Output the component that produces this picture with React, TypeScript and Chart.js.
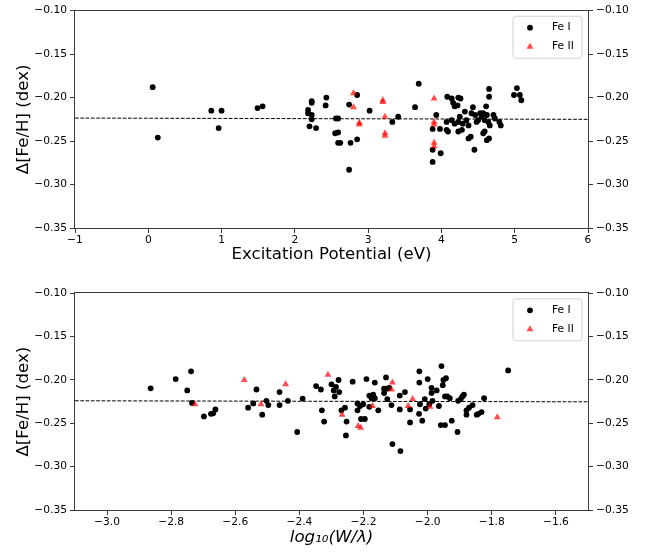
import React, { useEffect, useRef } from "react";
import { Chart, registerables } from "chart.js";

Chart.register(...registerables);

// ---------- data ----------
const seriesLabels = ["Fe I", "Fe II"];

// Top panel: excitation potential (eV) vs Δ[Fe/H]
const epFeI = [
  0.06, 0.13, 0.86, 1.0, 0.96, 1.49, 1.56, 2.18, 2.18, 2.23, 2.23, 2.23, 2.23, 2.2, 2.29, 2.43, 2.42, 2.56, 2.59,
  2.55, 2.59, 2.59, 2.62, 2.74, 2.74, 2.76, 2.85, 2.85, 3.02, 3.33, 3.41, 3.64, 3.69, 3.88, 3.88, 3.88, 3.93, 3.98,
  3.99, 4.08, 4.14, 4.23, 4.26, 4.16, 4.22, 4.18, 4.65, 4.65, 5.03, 4.99, 5.07, 5.09, 4.43, 4.61, 4.41, 4.46, 4.53,
  4.57, 4.55, 4.62, 4.71, 4.73, 4.79, 4.81, 4.07, 4.07, 4.09, 4.14, 4.18, 4.23, 4.25, 4.29, 4.23, 4.28, 4.32, 4.34,
  4.37, 4.48, 4.5, 4.59, 4.64, 4.66, 4.57, 4.59, 4.62, 4.65, 4.37, 4.4, 4.45,
];
const epFeIDelta = [
  -0.188, -0.246, -0.215, -0.215, -0.235, -0.212, -0.21, -0.214, -0.218, -0.204, -0.206, -0.22, -0.225, -0.233,
  -0.235, -0.2, -0.209, -0.224, -0.224, -0.241, -0.24, -0.252, -0.252, -0.208, -0.283, -0.252, -0.197, -0.248,
  -0.215, -0.228, -0.222, -0.211, -0.184, -0.236, -0.26, -0.274, -0.22, -0.236, -0.264, -0.199, -0.201, -0.2,
  -0.201, -0.206, -0.209, -0.21, -0.19, -0.199, -0.189, -0.197, -0.197, -0.203, -0.211, -0.21, -0.218, -0.22,
  -0.218, -0.218, -0.222, -0.22, -0.22, -0.224, -0.228, -0.232, -0.228, -0.237, -0.239, -0.226, -0.23, -0.228,
  -0.222, -0.23, -0.239, -0.237, -0.216, -0.226, -0.232, -0.228, -0.226, -0.226, -0.228, -0.232, -0.241, -0.239,
  -0.249, -0.247, -0.247, -0.245, -0.26,
];
const epFeII = [2.8, 2.8, 2.88, 2.88, 3.2, 3.2, 3.23, 3.23, 3.23, 3.9, 3.9, 3.9, 3.9, 3.9];
const epFeIIDelta = [
  -0.195, -0.211, -0.229, -0.231, -0.203, -0.205, -0.222, -0.241, -0.244, -0.201, -0.228, -0.231, -0.252, -0.256,
];
const epFitX = [-1, 6];
const epFitY = [-0.2235, -0.225];

// Bottom panel: log10(W/λ) vs Δ[Fe/H]
const rewFeI = [
  -2.864, -2.786, -2.75, -2.738, -2.735, -2.698, -2.676, -2.669, -2.662, -2.56, -2.544, -2.534, -2.516, -2.503,
  -2.497, -2.462, -2.462, -2.436, -2.407, -2.39, -2.348, -2.333, -2.33, -2.323, -2.3, -2.293, -2.29, -2.286,
  -2.278, -2.276, -2.269, -2.258, -2.253, -2.255, -2.234, -2.219, -2.219, -2.211, -2.208, -2.201, -2.196, -2.191,
  -2.182, -2.182, -2.175, -2.17, -2.165, -2.165, -2.154, -2.13, -2.136, -2.136, -2.128, -2.126, -2.12, -2.113,
  -2.11, -2.087, -2.085, -2.087, -2.071, -2.055, -2.055, -2.026, -2.026, -2.024, -2.027, -2.017, -2.009, -2.006,
  -2.0, -1.995, -1.988, -1.988, -1.985, -1.972, -1.965, -1.957, -1.959, -1.951, -1.953, -1.946, -1.943, -1.946,
  -1.939, -1.931, -1.925, -1.907, -1.905, -1.897, -1.892, -1.887, -1.879, -1.879, -1.871, -1.86, -1.847, -1.842,
  -1.832, -1.824, -1.749,
];
const rewFeIDelta = [
  -0.2096, -0.199, -0.212, -0.19, -0.2265, -0.242, -0.239, -0.2385, -0.234, -0.232, -0.227, -0.211, -0.24, -0.224,
  -0.229, -0.214, -0.229, -0.224, -0.26, -0.2215, -0.207, -0.211, -0.235, -0.248, -0.205, -0.212, -0.219, -0.208,
  -0.2, -0.214, -0.235, -0.232, -0.248, -0.264, -0.202, -0.227, -0.235, -0.23, -0.245, -0.228, -0.245, -0.199,
  -0.218, -0.231, -0.221, -0.217, -0.203, -0.221, -0.235, -0.197, -0.21, -0.215, -0.21, -0.222, -0.209, -0.229,
  -0.274, -0.218, -0.282, -0.234, -0.214, -0.234, -0.249, -0.19, -0.203, -0.228, -0.239, -0.247, -0.222, -0.233,
  -0.199, -0.228, -0.209, -0.215, -0.224, -0.212, -0.23, -0.184, -0.252, -0.2, -0.206, -0.252, -0.198, -0.219,
  -0.219, -0.221, -0.247, -0.26, -0.224, -0.222, -0.219, -0.217, -0.235, -0.24, -0.232, -0.229, -0.24, -0.239,
  -0.237, -0.221, -0.189,
];
const rewFeII = [
  -2.726, -2.572, -2.52, -2.443, -2.311, -2.267, -2.217, -2.209, -2.172, -2.11, -2.113, -2.061, -2.047, -1.993, -1.783,
];
const rewFeIIDelta = [
  -0.228, -0.2, -0.228, -0.205, -0.194, -0.24, -0.253, -0.255, -0.23, -0.203, -0.211, -0.23, -0.222, -0.231, -0.243,
];
const rewFitX = [-3.1, -1.5];
const rewFitY = [-0.224, -0.2252];

// ticks and titles
const yTicks = [-0.35, -0.3, -0.25, -0.2, -0.15, -0.1];
const epTicks = [-1, 0, 1, 2, 3, 4, 5, 6];
const rewTicks = [-3.0, -2.8, -2.6, -2.4, -2.2, -2.0, -1.8, -1.6];
const epTitle = "Excitation Potential (eV)";
const rewTitle = "log\u2081\u2080(W/\u03BB)";
const yTitle = "\u0394[Fe/H] (dex)";

// ---------- styling ----------
const FONT = "'DejaVu Sans', 'Noto Sans', sans-serif";
const TICK_SIZE = 10.7;
const TITLE_SIZE = 16.6;
const FE1_COLOR = "#000000";
const FE2_COLOR = "rgba(255,0,0,0.7)";
const AXIS_COLOR = "#3a3a3a";

function fmt(v: number, dec: number): string {
  const s = Math.abs(v).toFixed(dec);
  if (Number(s) === 0) return s;
  return (v < 0 ? "\u2212" : "") + s;
}

const framePlugin = {
  id: "frame",
  afterDatasetsDraw(chart: any) {
    const { ctx, chartArea } = chart;
    ctx.save();
    ctx.strokeStyle = AXIS_COLOR;
    ctx.lineWidth = 1;
    const l = Math.round(chartArea.left) - 0.5;
    const r = Math.round(chartArea.right) + 0.5;
    const t = Math.round(chartArea.top) - 0.5;
    const b = Math.round(chartArea.bottom) + 0.5;
    ctx.strokeRect(l, t, r - l, b - t);
    ctx.restore();
  },
};

const boxLegendPlugin = {
  id: "boxLegend",
  afterDraw(chart: any) {
    const { ctx, chartArea } = chart;
    const w = 69;
    const h = 42;
    const x0 = chartArea.right - 6 - w;
    const y0 = chartArea.top + 5.5;
    ctx.save();
    ctx.beginPath();
    if (ctx.roundRect) ctx.roundRect(x0, y0, w, h, 3);
    else ctx.rect(x0, y0, w, h);
    ctx.fillStyle = "rgba(255,255,255,0.8)";
    ctx.fill();
    ctx.strokeStyle = "rgba(204,204,204,0.9)";
    ctx.lineWidth = 1;
    ctx.stroke();
    const items = chart.data.datasets.filter((d: any) => d.legendEntry);
    items.forEach((ds: any, i: number) => {
      const cx = x0 + 17;
      const cy = y0 + 11.5 + i * 19;
      ctx.fillStyle = ds.backgroundColor;
      ctx.beginPath();
      if (ds.pointStyle === "triangle") {
        const r = ds.pointRadius;
        ctx.moveTo(cx, cy - r);
        ctx.lineTo(cx + r * Math.sin((2 * Math.PI) / 3), cy - r * Math.cos((2 * Math.PI) / 3));
        ctx.lineTo(cx + r * Math.sin((4 * Math.PI) / 3), cy - r * Math.cos((4 * Math.PI) / 3));
        ctx.closePath();
      } else {
        ctx.arc(cx, cy, ds.pointRadius, 0, Math.PI * 2);
      }
      ctx.fill();
      ctx.fillStyle = "#000";
      ctx.font = `${TICK_SIZE}px ${FONT}`;
      ctx.textBaseline = "middle";
      ctx.textAlign = "left";
      ctx.fillText(ds.label, x0 + 39, cy);
    });
    ctx.restore();
  },
};

function makeConfig(opts: {
  x1: number[];
  y1: number[];
  x2: number[];
  y2: number[];
  fitX: number[];
  fitY: number[];
  xMin: number;
  xMax: number;
  xTicks: number[];
  xDec: number;
  xTitle: string;
  xItalic: boolean;
  xTitlePadBottom: number;
  xAxisHeight: number;
  padTop: number;
}): any {
  const tickFont = { family: FONT, size: TICK_SIZE };
  const yScaleBase = (position: string, width: number, withTitle: boolean) => ({
    type: "linear",
    position,
    min: -0.35,
    max: -0.1,
    afterBuildTicks: (s: any) => {
      s.ticks = yTicks.map((v) => ({ value: v }));
    },
    afterFit: (s: any) => {
      s.width = width;
    },
    ticks: {
      callback: (v: any) => fmt(Number(v), 2),
      font: tickFont,
      color: "#000",
      padding: 3,
      autoSkip: false,
    },
    grid: { drawOnChartArea: false, drawTicks: true, tickLength: 5, color: AXIS_COLOR, tickWidth: 1 },
    border: { display: false },
    title: {
      display: withTitle,
      text: yTitle,
      color: "#000",
      font: { family: FONT, size: TITLE_SIZE },
      padding: { top: 14, bottom: 0 },
    },
  });
  return {
    type: "scatter",
    data: {
      datasets: [
        {
          label: seriesLabels[0],
          legendEntry: true,
          data: opts.x1.map((x, i) => ({ x, y: opts.y1[i] })),
          backgroundColor: FE1_COLOR,
          borderWidth: 0,
          pointStyle: "circle",
          pointRadius: 2.9,
          order: 1,
        },
        {
          label: seriesLabels[1],
          legendEntry: true,
          data: opts.x2.map((x, i) => ({ x, y: opts.y2[i] })),
          backgroundColor: FE2_COLOR,
          borderWidth: 0,
          pointStyle: "triangle",
          pointRadius: 4,
          order: 0,
        },
        {
          type: "line",
          label: "fit",
          data: opts.fitX.map((x, i) => ({ x, y: opts.fitY[i] })),
          borderColor: "#000",
          borderWidth: 1,
          borderDash: [3.7, 1.6],
          pointRadius: 0,
          fill: false,
          order: 3,
        },
      ],
    },
    options: {
      animation: false,
      responsive: false,
      devicePixelRatio: 1,
      layout: { padding: { top: opts.padTop, left: 0, right: 0, bottom: 0 } },
      plugins: { legend: { display: false }, tooltip: { enabled: false } },
      scales: {
        x: {
          type: "linear",
          position: "bottom",
          min: opts.xMin,
          max: opts.xMax,
          afterBuildTicks: (s: any) => {
            s.ticks = opts.xTicks.map((v) => ({ value: v }));
          },
          afterFit: (s: any) => {
            s.height = opts.xAxisHeight;
          },
          ticks: {
            callback: (v: any) => fmt(Number(v), opts.xDec),
            font: tickFont,
            color: "#000",
            padding: 1,
            maxRotation: 0,
            autoSkip: false,
          },
          grid: { drawOnChartArea: false, drawTicks: true, tickLength: 5, color: AXIS_COLOR, tickWidth: 1 },
          border: { display: false },
          title: {
            display: true,
            text: opts.xTitle,
            color: "#000",
            font: { family: FONT, size: TITLE_SIZE, style: opts.xItalic ? "italic" : "normal" },
            padding: { top: 0, bottom: opts.xTitlePadBottom },
          },
        },
        y: yScaleBase("left", 75, true),
        y2: yScaleBase("right", 63, false),
      },
    },
    plugins: [framePlugin, boxLegendPlugin],
  };
}

export default function App() {
  const topRef = useRef<HTMLCanvasElement>(null);
  const botRef = useRef<HTMLCanvasElement>(null);

  useEffect(() => {
    const c1 = new Chart(
      topRef.current as HTMLCanvasElement,
      makeConfig({
        x1: epFeI,
        y1: epFeIDelta,
        x2: epFeII,
        y2: epFeIIDelta,
        fitX: epFitX,
        fitY: epFitY,
        xMin: -1,
        xMax: 6,
        xTicks: epTicks,
        xDec: 0,
        xTitle: epTitle,
        xItalic: false,
        xTitlePadBottom: 11.5,
        xAxisHeight: 48,
        padTop: 10.7,
      })
    );
    const c2 = new Chart(
      botRef.current as HTMLCanvasElement,
      makeConfig({
        x1: rewFeI,
        y1: rewFeIDelta,
        x2: rewFeII,
        y2: rewFeIIDelta,
        fitX: rewFitX,
        fitY: rewFitY,
        xMin: -3.1,
        xMax: -1.5,
        xTicks: rewTicks,
        xDec: 1,
        xTitle: rewTitle,
        xItalic: true,
        xTitlePadBottom: 4.5,
        xAxisHeight: 42,
        padTop: 17.3,
      })
    );
    return () => {
      c1.destroy();
      c2.destroy();
    };
  }, []);

  return (
    <div style={{ position: "absolute", left: 0, top: 0, width: 651, height: 552, background: "#fff" }}>
      <canvas
        ref={topRef}
        width={651}
        height={276}
        style={{ position: "absolute", left: 0, top: 0, width: 651, height: 276 }}
      />
      <canvas
        ref={botRef}
        width={651}
        height={276}
        style={{ position: "absolute", left: 0, top: 276, width: 651, height: 276 }}
      />
    </div>
  );
}
